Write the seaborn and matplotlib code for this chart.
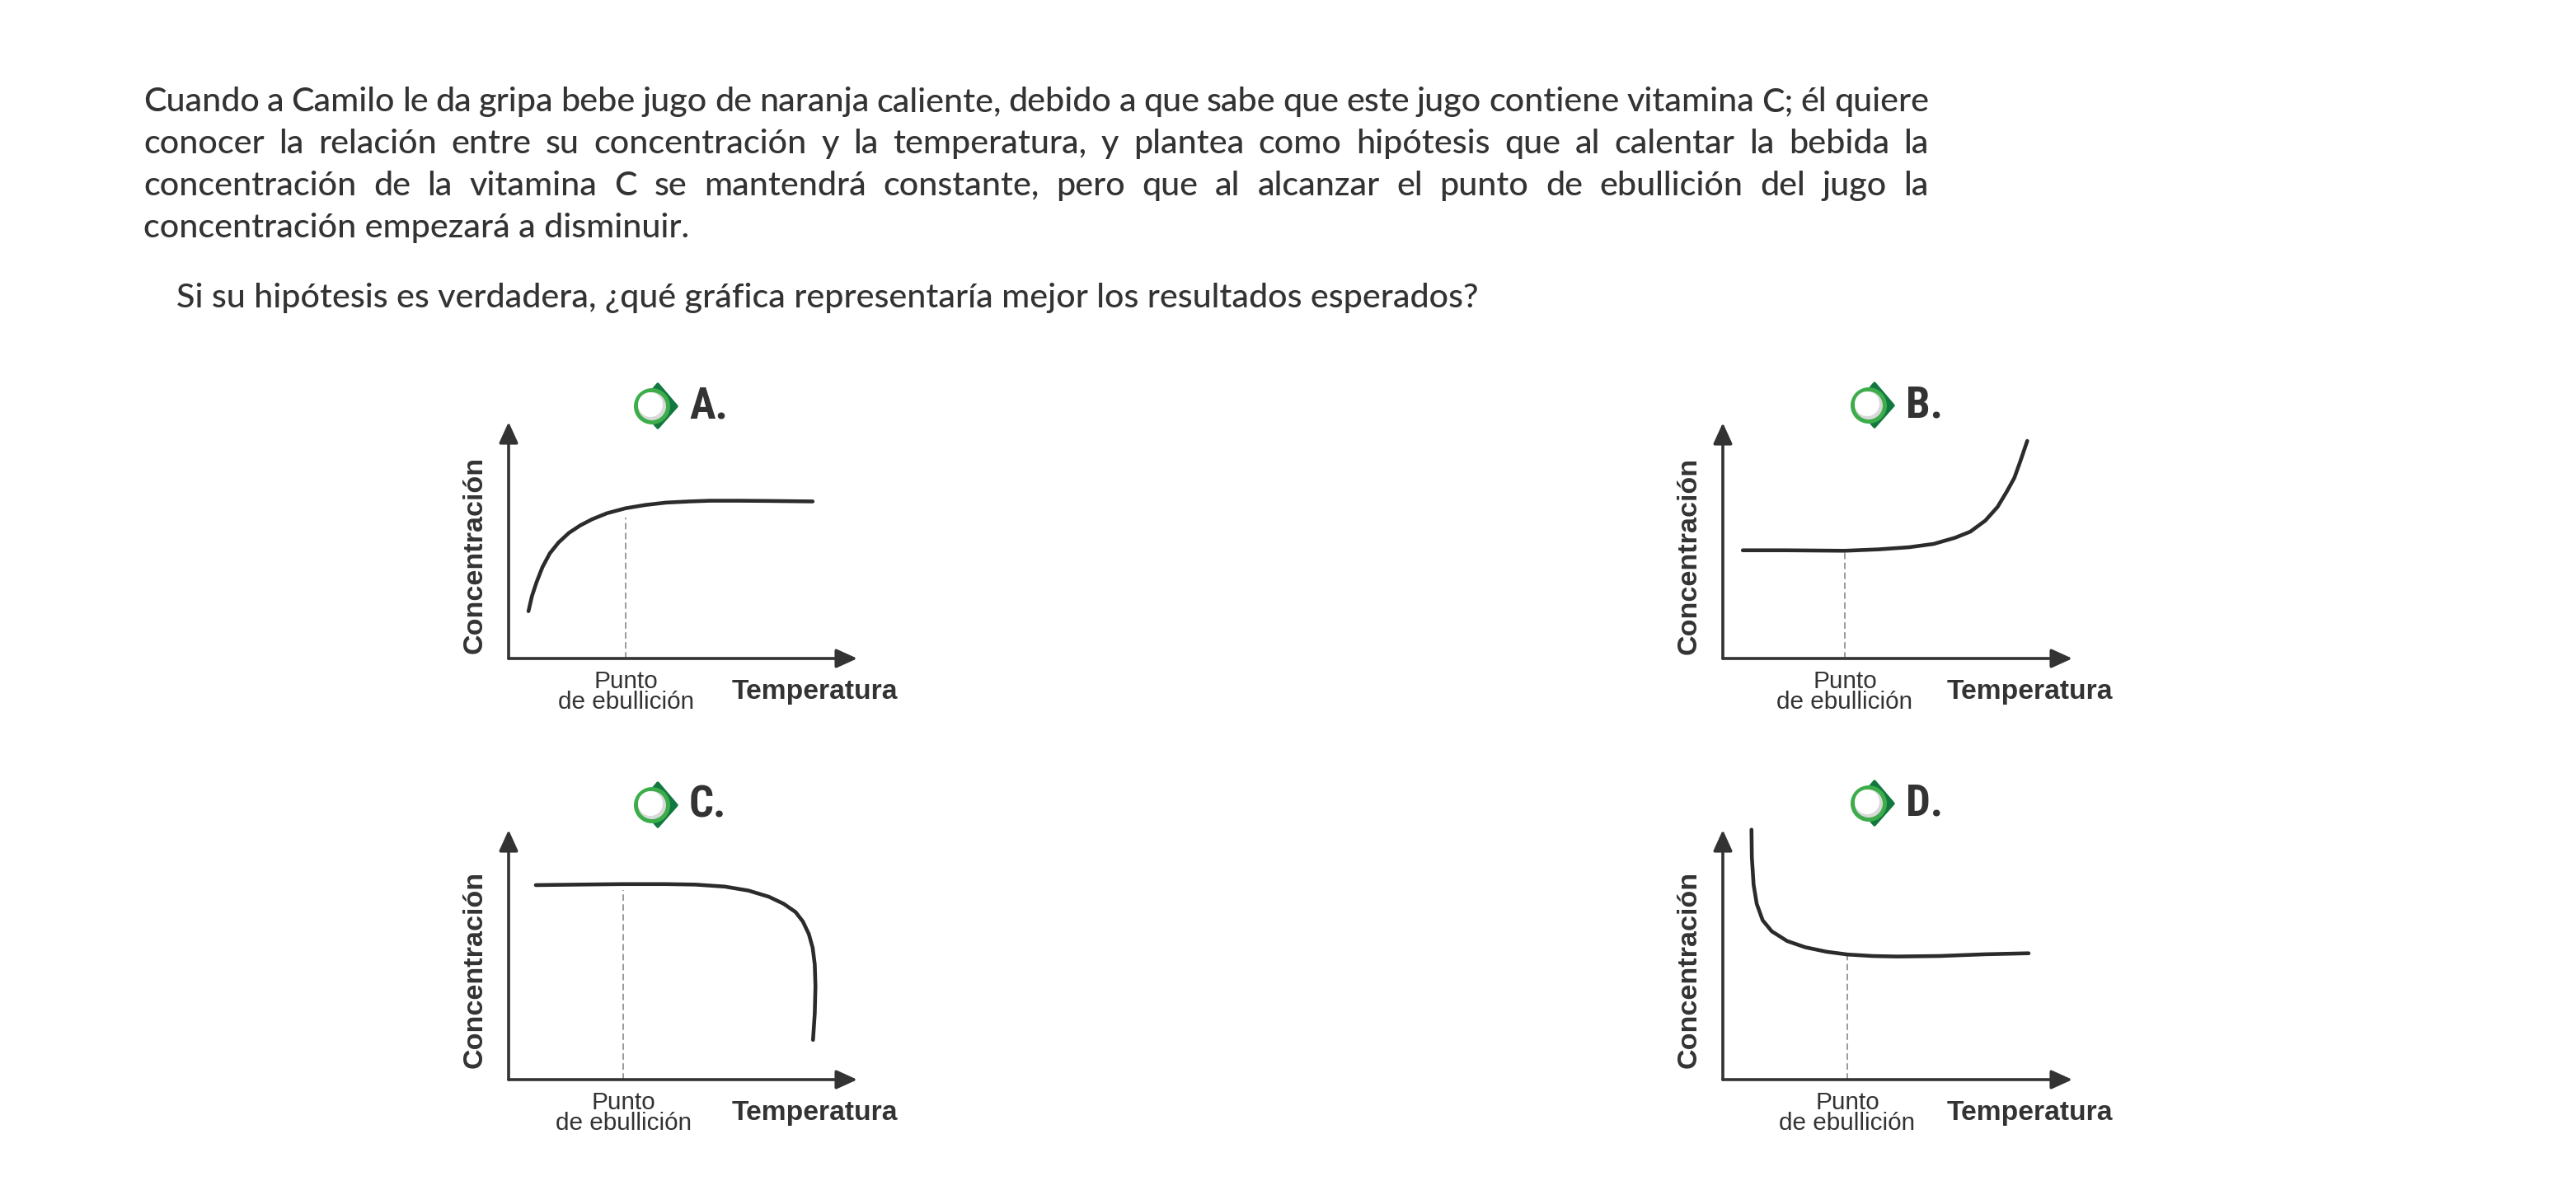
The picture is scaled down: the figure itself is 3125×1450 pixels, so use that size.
import matplotlib
matplotlib.use('Agg')
import matplotlib.pyplot as plt
from matplotlib.patches import Circle, Polygon
import seaborn as sns

# --- data: curves (x: 0-10 along Temperatura, y: 0-10 along Concentracion)
a_x = [0.57, 0.67, 0.80, 0.97, 1.18, 1.43, 1.73, 2.06, 2.40, 2.82, 3.35, 3.92, 4.51, 5.19, 5.78, 6.62, 7.47, 8.72]
a_y = [2.00, 2.64, 3.22, 3.86, 4.44, 4.90, 5.31, 5.63, 5.89, 6.14, 6.35, 6.49, 6.59, 6.64, 6.67, 6.67, 6.66, 6.64]

b_x = [0.57, 1.84, 3.48, 4.46, 5.33, 6.03, 6.64, 7.08, 7.51, 7.86, 8.12, 8.34, 8.51, 8.71]
b_y = [4.59, 4.59, 4.57, 4.63, 4.72, 4.86, 5.12, 5.38, 5.85, 6.43, 7.07, 7.66, 8.36, 9.23]

c_x = [0.78, 1.98, 3.25, 4.51, 5.36, 6.20, 6.88, 7.47, 7.89, 8.23, 8.44, 8.61, 8.72, 8.78, 8.80, 8.78, 8.73]
c_y = [7.79, 7.81, 7.83, 7.83, 7.81, 7.73, 7.57, 7.32, 7.04, 6.71, 6.33, 5.83, 5.28, 4.62, 3.74, 2.64, 1.59]

d_x = [0.82, 0.83, 0.88, 0.97, 1.14, 1.40, 1.84, 2.36, 2.97, 3.57, 4.28, 4.98, 6.20, 7.51, 8.75]
d_y = [10.01, 8.91, 7.81, 7.04, 6.38, 5.94, 5.55, 5.30, 5.12, 5.01, 4.95, 4.93, 4.95, 5.02, 5.06]

boiling_x = [3.36, 3.49, 3.29, 3.56]
boiling_top = [5.96, 4.57, 7.59, 5.05]

options = ['A.', 'B.', 'C.', 'D.']
y_label = 'Concentración'
x_label = 'Temperatura'
bp_label = ['Punto', 'de ebullición']

para = [
    "Cuando a Camilo le da gripa bebe jugo de naranja caliente, debido a que sabe que este jugo contiene vitamina C; él quiere",
    "conocer la relación entre su concentración y la temperatura, y plantea como hipótesis que al calentar la bebida la",
    "concentración de la vitamina C se mantendrá constante, pero que al alcanzar el punto de ebullición del jugo la",
    "concentración empezará a disminuir.",
]
question = "Si su hipótesis es verdadera, ¿qué gráfica representaría mejor los resultados esperados?"

curves = [(a_x, a_y), (b_x, b_y), (c_x, c_y), (d_x, d_y)]

# --- layout (pixels): axis origin, x arrow tip, y arrow tip
frames = [(617, 799, 1040, 512), (2090, 799, 2514, 513),
          (617, 1310, 1040, 1007), (2090, 1310, 2514, 1007)]
icons = [(791, 493), (2267, 492), (791, 977), (2267, 975)]

DARK = '#333333'
W, H = 3125, 1450

sns.set_style('white')
plt.rcParams['font.family'] = ['Lato', 'DejaVu Sans']

fig = plt.figure(figsize=(W / 100, H / 100), dpi=100)
bg = fig.add_axes([0, 0, 1, 1])
bg.set_xlim(0, W)
bg.set_ylim(H, 0)
bg.axis('off')

# paragraph text, justified
renderer = fig.canvas.get_renderer()
t = bg.text(0, 0, question, fontsize=30, fontweight=500)
qw = t.get_window_extent(renderer).width
t.remove()
fs = 30 * 1579 / qw

left, right = 174, 2340
baselines = [135, 186, 237, 288]
for i, line in enumerate(para):
    if i < 3:
        words = line.split()
        objs = [bg.text(0, baselines[i], w, fontsize=fs, fontweight=500, color=DARK,
                        va='baseline') for w in words]
        widths = [o.get_window_extent(renderer).width for o in objs]
        gap = (right - left - sum(widths)) / (len(words) - 1)
        x = left
        for o, w in zip(objs, widths):
            o.set_x(x)
            x += w + gap
    else:
        bg.text(left, baselines[i], line, fontsize=fs, fontweight=500, color=DARK, va='baseline')

bg.text(214, 373, question, fontsize=fs, fontweight=500, color=DARK, va='baseline')

arrow = dict(arrowstyle='-|>,head_length=0.55,head_width=0.25', mutation_scale=28,
             lw=2.6, color=DARK, shrinkA=0, shrinkB=0)

for k, ((ox, oy, xt, yt), (cx, cy), (xs, ys)) in enumerate(zip(frames, icons, curves)):
    ax = fig.add_axes([ox / W, 1 - oy / H, (xt - ox) / W, (oy - yt) / H])
    ax.set_xlim(0, 10)
    ax.set_ylim(0, 10)
    ax.patch.set_alpha(0)
    for s in ax.spines.values():
        s.set_visible(False)
    ax.set_xticks([])
    ax.set_yticks([])
    ax.annotate('', xy=(1, 0), xytext=(0, 0), xycoords='axes fraction', arrowprops=arrow)
    ax.annotate('', xy=(0, 1), xytext=(0, 0), xycoords='axes fraction', arrowprops=arrow)

    ax.plot([boiling_x[k], boiling_x[k]], [0, boiling_top[k]], color='#9a9a9a',
            lw=1.4, dashes=(4, 2.2))
    sns.lineplot(x=xs, y=ys, sort=False, estimator=None, ax=ax, color='#2b2b2b',
                 lw=3.3, solid_capstyle='round', solid_joinstyle='round', clip_on=False)

    # axis labels
    ymid = (oy + yt) / 2 + 18
    bg.text(ox - 41, ymid, y_label, rotation=90, ha='center', va='center', fontsize=24.6,
            fontweight='bold', color=DARK, family=['Liberation Sans', 'DejaVu Sans'])
    bg.text(xt - 52, oy + 40, x_label, ha='center', va='center', fontsize=24.2,
            fontweight='bold', color=DARK, family=['Liberation Sans', 'DejaVu Sans'])
    bx = ox + boiling_x[k] * (xt - ox) / 10
    bg.text(bx, oy + 28, bp_label[0], ha='center', va='center', fontsize=21.4,
            color=DARK, family=['Liberation Sans', 'DejaVu Sans'])
    bg.text(bx, oy + 53, bp_label[1], ha='center', va='center', fontsize=21.4,
            color=DARK, family=['Liberation Sans', 'DejaVu Sans'])

    # option icon
    dx = cx + 7
    bg.add_patch(Polygon([(dx, cy - 27), (dx + 23, cy), (dx, cy + 26), (dx - 23, cy)],
                         closed=True, facecolor='#11783f', edgecolor='#11783f',
                         lw=2.5, joinstyle='round'))
    bg.add_patch(Circle((cx, cy), 19.5, facecolor='#d9d9d9', edgecolor='#3cad4a', lw=3.6))
    bg.add_patch(Circle((cx - 2, cy - 2), 15, facecolor='white', edgecolor='none'))
    bg.text(cx + 45, cy, options[k], ha='left', va='center', fontsize=38,
            fontweight='bold', color=DARK,
            family=['Liberation Sans Narrow', 'Roboto Condensed', 'Roboto', 'DejaVu Sans'])

fig.savefig('out.png', dpi=100, facecolor='white')
